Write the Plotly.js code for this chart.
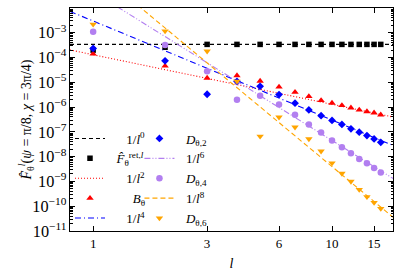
<!DOCTYPE html>
<html>
<head>
<meta charset="utf-8">
<script src="https://cdn.plot.ly/plotly-3.0.1.min.js"></script>
<style>html,body{margin:0;padding:0;background:#fff;}#chart{width:395px;height:271px;}</style>
</head>
<body>
<div id="chart"></div>
<script>
// multipole index l
var ell = [1,2,3,4,5,6,7,8,9,10,11,12,13,14,15,16];
// F-hat ret
var Fret = [2.0e-4,2.6e-4,3.4e-4,3.4e-4,3.4e-4,3.4e-4,3.4e-4,3.4e-4,3.4e-4,3.4e-4,3.4e-4,3.4e-4,3.4e-4,3.4e-4,3.4e-4,3.4e-4];
// B_theta
var Btheta = [1.4e-4,4.6e-5,1.48e-5,1.87e-5,1.12e-5,6.5e-6,4.0e-6,2.7e-6,1.86e-6,1.45e-6,1.17e-6,9.4e-7,7.7e-7,6.6e-7,5.9e-7,4.9e-7];
// D_theta,2
var D2 = [2.33e-4,7.4e-5,3.3e-6,1.1e-5,6.9e-6,3.2e-6,1.44e-6,7.7e-7,4.5e-7,2.9e-7,2.0e-7,1.33e-7,9.7e-8,7.1e-8,5.2e-8,3.8e-8];
// D_theta,4
var D4 = [1.1e-3,3.2e-4,2.8e-5,2.0e-6,2.9e-6,1.28e-6,4.9e-7,2.0e-7,9.4e-8,4.5e-8,2.4e-8,1.36e-8,8.1e-9,5.4e-9,3.5e-9,2.3e-9];
// D_theta,6
var D6 = [2.2e-3,1.17e-3,1.8e-4,1.1e-5,6.6e-8,3.9e-7,1.55e-7,5.2e-8,1.66e-8,5.5e-9,2.1e-9,1.0e-9,4.7e-10,2.4e-10,1.4e-10,8e-11];
// reference power-law lines, end points read at l = 0.8 and l = 18
var lineL = [0.8, 18];
var fit0 = [3.4e-4, 3.4e-4];
var fit2 = [2.03e-4, 4.0e-7];
var fit4 = [7.3e-3, 2.86e-8];
var fit6 = [0.172, 1.32e-9];
var fit8 = [2.4, 3.6e-11];
// tick labels
var xTicks = [1,3,6,10,15];
var xTickText = ['1','3','6','10','15'];

var serif = 'Liberation Serif, DejaVu Serif, serif';
var RED = '#ff0000', BLUE = '#0000ff', VIO = '#b27ff0', ORA = '#ffa500';
var sp = function (n) { return '\u00A0'.repeat(n); };

function lineTrace(y, name, color, dash, lg) {
  return {x: lineL, y: y, mode: 'lines', name: name, legend: lg,
          line: {color: color, width: 1.1, dash: dash}, hoverinfo: 'skip'};
}
function ptTrace(y, name, color, symbol, size, lg) {
  return {x: ell, y: y, mode: 'markers', name: name, legend: lg,
          marker: {color: color, symbol: symbol, size: size, line: {width: 0}}};
}

var data = [
  lineTrace(fit0, sp(5) + '1/<i>l</i><sup>0</sup>', '#000000', '4px,3px', 'legend'),
  ptTrace(Fret, sp(2) + '<i>F̂</i><sub>θ</sub><sup>ret,<i>l</i></sup>', '#000000', 'square', 5.5, 'legend'),
  lineTrace(fit2, sp(5) + '1/<i>l</i><sup>2</sup>', RED, '1px,2px', 'legend'),
  ptTrace(Btheta, sp(7) + '<i>B</i><sub>θ</sub>', RED, 'triangle-up', 6.5, 'legend'),
  lineTrace(fit4, sp(5) + '1/<i>l</i><sup>4</sup>', BLUE, '6px,3px,1px,3px', 'legend'),
  ptTrace(D2, sp(2) + '<i>D</i><sub>θ,2</sub>', BLUE, 'diamond', 6, 'legend2'),
  lineTrace(fit6, sp(2) + '1/<i>l</i><sup>6</sup>', VIO, '6px,2px,1px,2px,1px,2px', 'legend2'),
  ptTrace(D4, sp(2) + '<i>D</i><sub>θ,4</sub>', VIO, 'circle', 6.5, 'legend2'),
  lineTrace(fit8, sp(2) + '1/<i>l</i><sup>8</sup>', ORA, '5px,3px', 'legend2'),
  ptTrace(D6, sp(2) + '<i>D</i><sub>θ,6</sub>', ORA, 'triangle-down', 6.5, 'legend2')
];

var legendCommon = {
  xanchor: 'left', yanchor: 'top', bgcolor: 'rgba(0,0,0,0)', borderwidth: 0,
  font: {family: serif, size: 13, color: '#000'}, traceorder: 'normal', itemwidth: 30
};

var layout = {
  width: 395, height: 271,
  margin: {l: 70, r: 2, t: 8, b: 40},
  paper_bgcolor: '#fff', plot_bgcolor: '#fff',
  font: {family: serif, size: 13, color: '#000'},
  showlegend: true,
  legend: Object.assign({x: 0.0, y: 0.482}, legendCommon),
  legend2: Object.assign({x: 0.215, y: 0.482}, legendCommon),
  xaxis: {
    type: 'log', range: [Math.log10(0.8), Math.log10(18)],
    tickvals: xTicks, ticktext: xTickText,
    ticks: 'inside', ticklen: 5, tickcolor: '#000', tickwidth: 1,
    showline: true, linecolor: '#000', linewidth: 1, mirror: 'ticks',
    showgrid: false, zeroline: false,
    tickfont: {family: serif, size: 13},
    title: {text: '<i>l</i>', font: {family: serif, size: 14}, standoff: 8}
  },
  yaxis: {
    type: 'log', range: [-11, -2], dtick: 1,
    exponentformat: 'power', showexponent: 'all',
    ticks: 'inside', ticklen: 5, tickcolor: '#000', tickwidth: 1,
    minor: {ticks: 'inside', ticklen: 2.5, tickcolor: '#000', dtick: 'D1', showgrid: false},
    showline: true, linecolor: '#000', linewidth: 1, mirror: 'ticks',
    showgrid: false, zeroline: false,
    tickfont: {family: serif, size: 13},
    title: {text: '<i>F̂</i><sub>θ</sub><sup><i>l</i></sup>(<i>ψ</i> = π/8, <i>χ</i> = 3π/4)', font: {family: serif, size: 14}}
  }
};

Plotly.newPlot('chart', data, layout, {staticPlot: true, displayModeBar: false});
</script>
</body>
</html>
